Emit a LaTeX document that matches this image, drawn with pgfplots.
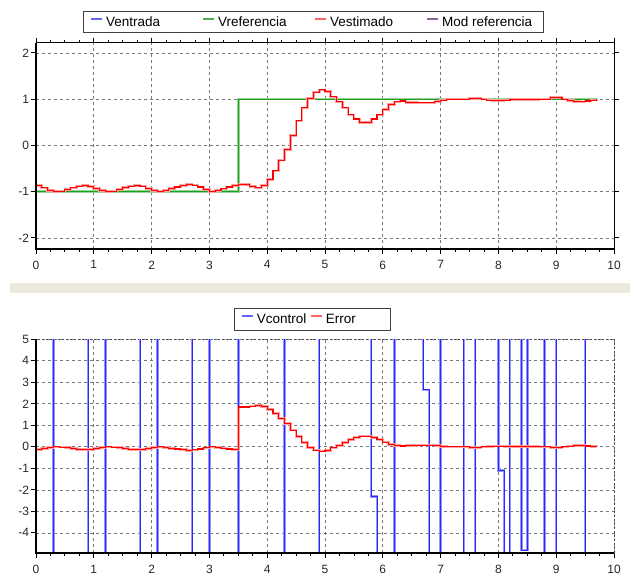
\documentclass[border=0pt]{standalone}
\usepackage{fontspec}
\setmainfont{Liberation Sans}
\usepackage{pgfplots}
\pgfplotsset{compat=1.18}
\definecolor{gridc}{RGB}{120,120,120}
\definecolor{sepc}{RGB}{236,233,222}
\definecolor{pgreen}{RGB}{30,160,30}
\definecolor{pgreenhalo}{RGB}{150,210,150}
\definecolor{pblue}{RGB}{40,40,255}
\definecolor{pbluehalo}{RGB}{150,150,255}
\definecolor{predhalo}{RGB}{255,160,160}
\definecolor{lblue}{RGB}{100,100,255}
\definecolor{lgreen}{RGB}{80,170,80}
\definecolor{lred}{RGB}{255,100,100}
\definecolor{lpurple}{RGB}{140,100,150}
\pgfplotsset{
  myaxis/.style={
    scale only axis, width=578pt, xmin=0, xmax=10, xtick={0,1,...,10},
    minor x tick num=3, tick align=outside,
    major tick length=5pt, minor tick length=3pt,
    grid=major, major grid style={gridc, dash pattern=on 3pt off 3pt, line width=0.7pt},
    minor grid style={draw=none},
    tick style={black, line width=0.8pt},
    ticklabel style={font=\fontsize{12}{14}\selectfont, text=black!85, inner sep=1pt},
    /pgf/number format/assume math mode=true,
    xticklabel shift=5.5pt, yticklabel shift=0.7pt,
    clip mode=individual,
    legend cell align=left,
    legend image code/.code={\draw[#1, line width=2.2pt] (0pt,0.33em) -- (11pt,0.33em);},
    legend style={font=\fontsize{13.5}{16}\selectfont, draw=black!75, line width=1.2pt,
      inner ysep=5pt, nodes={inner sep=0pt},
      /tikz/every odd column/.append style={column sep=3pt},
      anchor=north west},
  }
}
\begin{document}
\begin{tikzpicture}
\useasboundingbox (0,0) rectangle (630pt,-577pt);
\fill[sepc] (10pt,-283.3pt) rectangle (630pt,-293.3pt);
\begin{axis}[myaxis, at={(36pt,-249pt)}, anchor=south west, height=206.3pt,
  ymin=-2.24, ymax=2.22, ytick={-2,-1,0,1,2},
  axis line style={black, line width=0.9pt},
  legend columns=4,
  legend style={at={(0.0818,1.155)}, inner xsep=6pt}]
\addlegendimage{lblue}
\addlegendentry{\makebox[95.8pt][l]{Ventrada}}
\addlegendimage{lgreen}
\addlegendentry{\makebox[95.8pt][l]{Vreferencia}}
\addlegendimage{lred}
\addlegendentry{\makebox[95.8pt][l]{Vestimado}}
\addlegendimage{lpurple}
\addlegendentry{\makebox[95.8pt][l]{Mod referencia}}
\addplot[const plot, pgreen, line width=1.1pt, forget plot,
  preaction={draw, pgreenhalo, line width=2.4pt}] coordinates {(0,-1) (3.5,1) (9.7,1)};
\addplot[const plot, red, line width=1.1pt, forget plot,
  preaction={draw, predhalo, line width=2.6pt}] coordinates {
(0.0,-0.87) (0.1,-0.92) (0.2,-0.97) (0.3,-1.00) (0.4,-0.99) (0.5,-0.96) (0.6,-0.92) (0.7,-0.88) (0.8,-0.87) (0.9,-0.89)
(1.0,-0.93) (1.1,-0.97) (1.2,-1.00) (1.3,-0.99) (1.4,-0.96) (1.5,-0.91) (1.6,-0.88) (1.7,-0.87) (1.8,-0.88) (1.9,-0.93)
(2.0,-0.97) (2.1,-1.00) (2.2,-0.98) (2.3,-0.93) (2.4,-0.90) (2.5,-0.87) (2.6,-0.84) (2.7,-0.86) (2.8,-0.90) (2.9,-0.95)
(3.0,-1.00) (3.1,-0.97) (3.2,-0.94) (3.3,-0.90) (3.4,-0.87) (3.5,-0.85) (3.6,-0.85) (3.7,-0.89) (3.8,-0.92) (3.9,-0.87)
(4.0,-0.74) (4.1,-0.55) (4.2,-0.32) (4.3,-0.09) (4.4,0.22) (4.5,0.53) (4.6,0.81) (4.7,1.02) (4.8,1.15) (4.9,1.20)
(5.0,1.16) (5.1,1.05) (5.2,0.94) (5.3,0.81) (5.4,0.66) (5.5,0.57) (5.6,0.50) (5.7,0.50) (5.8,0.57) (5.9,0.66)
(6.0,0.78) (6.1,0.88) (6.2,0.94) (6.3,0.96) (6.4,0.93) (6.5,0.93) (6.6,0.92) (6.7,0.92) (6.8,0.92) (6.9,0.95)
(7.0,0.98) (7.1,1.00) (7.2,1.00) (7.3,1.00) (7.4,1.00) (7.5,1.02) (7.6,1.02) (7.7,1.00) (7.8,0.98) (7.9,0.97)
(8.0,0.97) (8.1,0.98) (8.2,0.99) (8.3,0.99) (8.4,0.99) (8.5,0.99) (8.6,0.99) (8.7,1.00) (8.8,1.00) (8.9,1.03)
(9.0,1.03) (9.1,1.00) (9.2,0.97) (9.3,0.95) (9.4,0.94) (9.5,0.96) (9.6,0.98) (9.7,1.00)};
\draw[black, line width=2.4pt] (rel axis cs:0,1) -- (rel axis cs:0,0) -- (rel axis cs:1,0);
\end{axis}
\begin{axis}[myaxis, at={(36pt,-553.3pt)}, anchor=south west, height=214pt,
  ymin=-4.95, ymax=5, ytick={-4,-3,...,5},
  xtick pos=left, ytick pos=left,
  axis line style={black!70, dash pattern=on 2pt off 2pt, line width=0.8pt},
  legend columns=2,
  legend style={at={(0.3426,1.145)}, inner xsep=6pt}]
\addlegendimage{lblue}
\addlegendentry{\makebox[52.8pt][l]{Vcontrol}}
\addlegendimage{lred}
\addlegendentry{\makebox[58.7pt][l]{Error}}
\addplot[const plot, pblue, line width=1.0pt, forget plot,
  preaction={draw, pbluehalo, line width=2.4pt}] coordinates {
(0,6) (0.3,-6) (0.9,6) (1.2,-6) (1.8,6) (2.1,-6) (2.7,6) (3.0,-6) (3.5,6) (4.3,-6)
(4.9,6) (5.8,-2.3) (5.9,-6) (6.2,6) (6.7,2.65) (6.8,-6) (7.0,6) (7.4,-6) (7.6,6)
(8.0,-1.1) (8.1,-6) (8.2,6) (8.4,-4.8) (8.5,6) (8.8,-6) (9.0,6) (9.5,-6) (9.7,-6)};
\addplot[const plot, red, line width=1.1pt, forget plot,
  preaction={draw, predhalo, line width=2.6pt}] coordinates {
(0.0,-0.13) (0.1,-0.08) (0.2,-0.03) (0.3,0.00) (0.4,-0.01) (0.5,-0.04) (0.6,-0.08) (0.7,-0.12) (0.8,-0.13) (0.9,-0.11)
(1.0,-0.07) (1.1,-0.03) (1.2,0.00) (1.3,-0.01) (1.4,-0.04) (1.5,-0.09) (1.6,-0.12) (1.7,-0.13) (1.8,-0.12) (1.9,-0.07)
(2.0,-0.03) (2.1,0.00) (2.2,-0.02) (2.3,-0.07) (2.4,-0.10) (2.5,-0.13) (2.6,-0.16) (2.7,-0.14) (2.8,-0.10) (2.9,-0.05)
(3.0,0.00) (3.1,-0.03) (3.2,-0.06) (3.3,-0.10) (3.4,-0.13) (3.5,1.85) (3.6,1.85) (3.7,1.89) (3.8,1.92) (3.9,1.87)
(4.0,1.74) (4.1,1.55) (4.2,1.32) (4.3,1.09) (4.4,0.78) (4.5,0.47) (4.6,0.19) (4.7,-0.02) (4.8,-0.15) (4.9,-0.20)
(5.0,-0.16) (5.1,-0.05) (5.2,0.06) (5.3,0.19) (5.4,0.34) (5.5,0.43) (5.6,0.50) (5.7,0.50) (5.8,0.43) (5.9,0.34)
(6.0,0.22) (6.1,0.12) (6.2,0.06) (6.3,0.04) (6.4,0.07) (6.5,0.07) (6.6,0.08) (6.7,0.08) (6.8,0.08) (6.9,0.05)
(7.0,0.02) (7.1,0.00) (7.2,0.00) (7.3,0.00) (7.4,0.00) (7.5,-0.02) (7.6,-0.02) (7.7,0.00) (7.8,0.02) (7.9,0.03)
(8.0,0.03) (8.1,0.02) (8.2,0.01) (8.3,0.01) (8.4,0.01) (8.5,0.01) (8.6,0.01) (8.7,0.00) (8.8,0.00) (8.9,-0.03)
(9.0,-0.03) (9.1,0.00) (9.2,0.03) (9.3,0.05) (9.4,0.06) (9.5,0.04) (9.6,0.02) (9.7,0.00)};
\draw[black, line width=2.4pt] (rel axis cs:0,1) -- (rel axis cs:0,0) -- (rel axis cs:1,0);
\end{axis}
\end{tikzpicture}
\end{document}
